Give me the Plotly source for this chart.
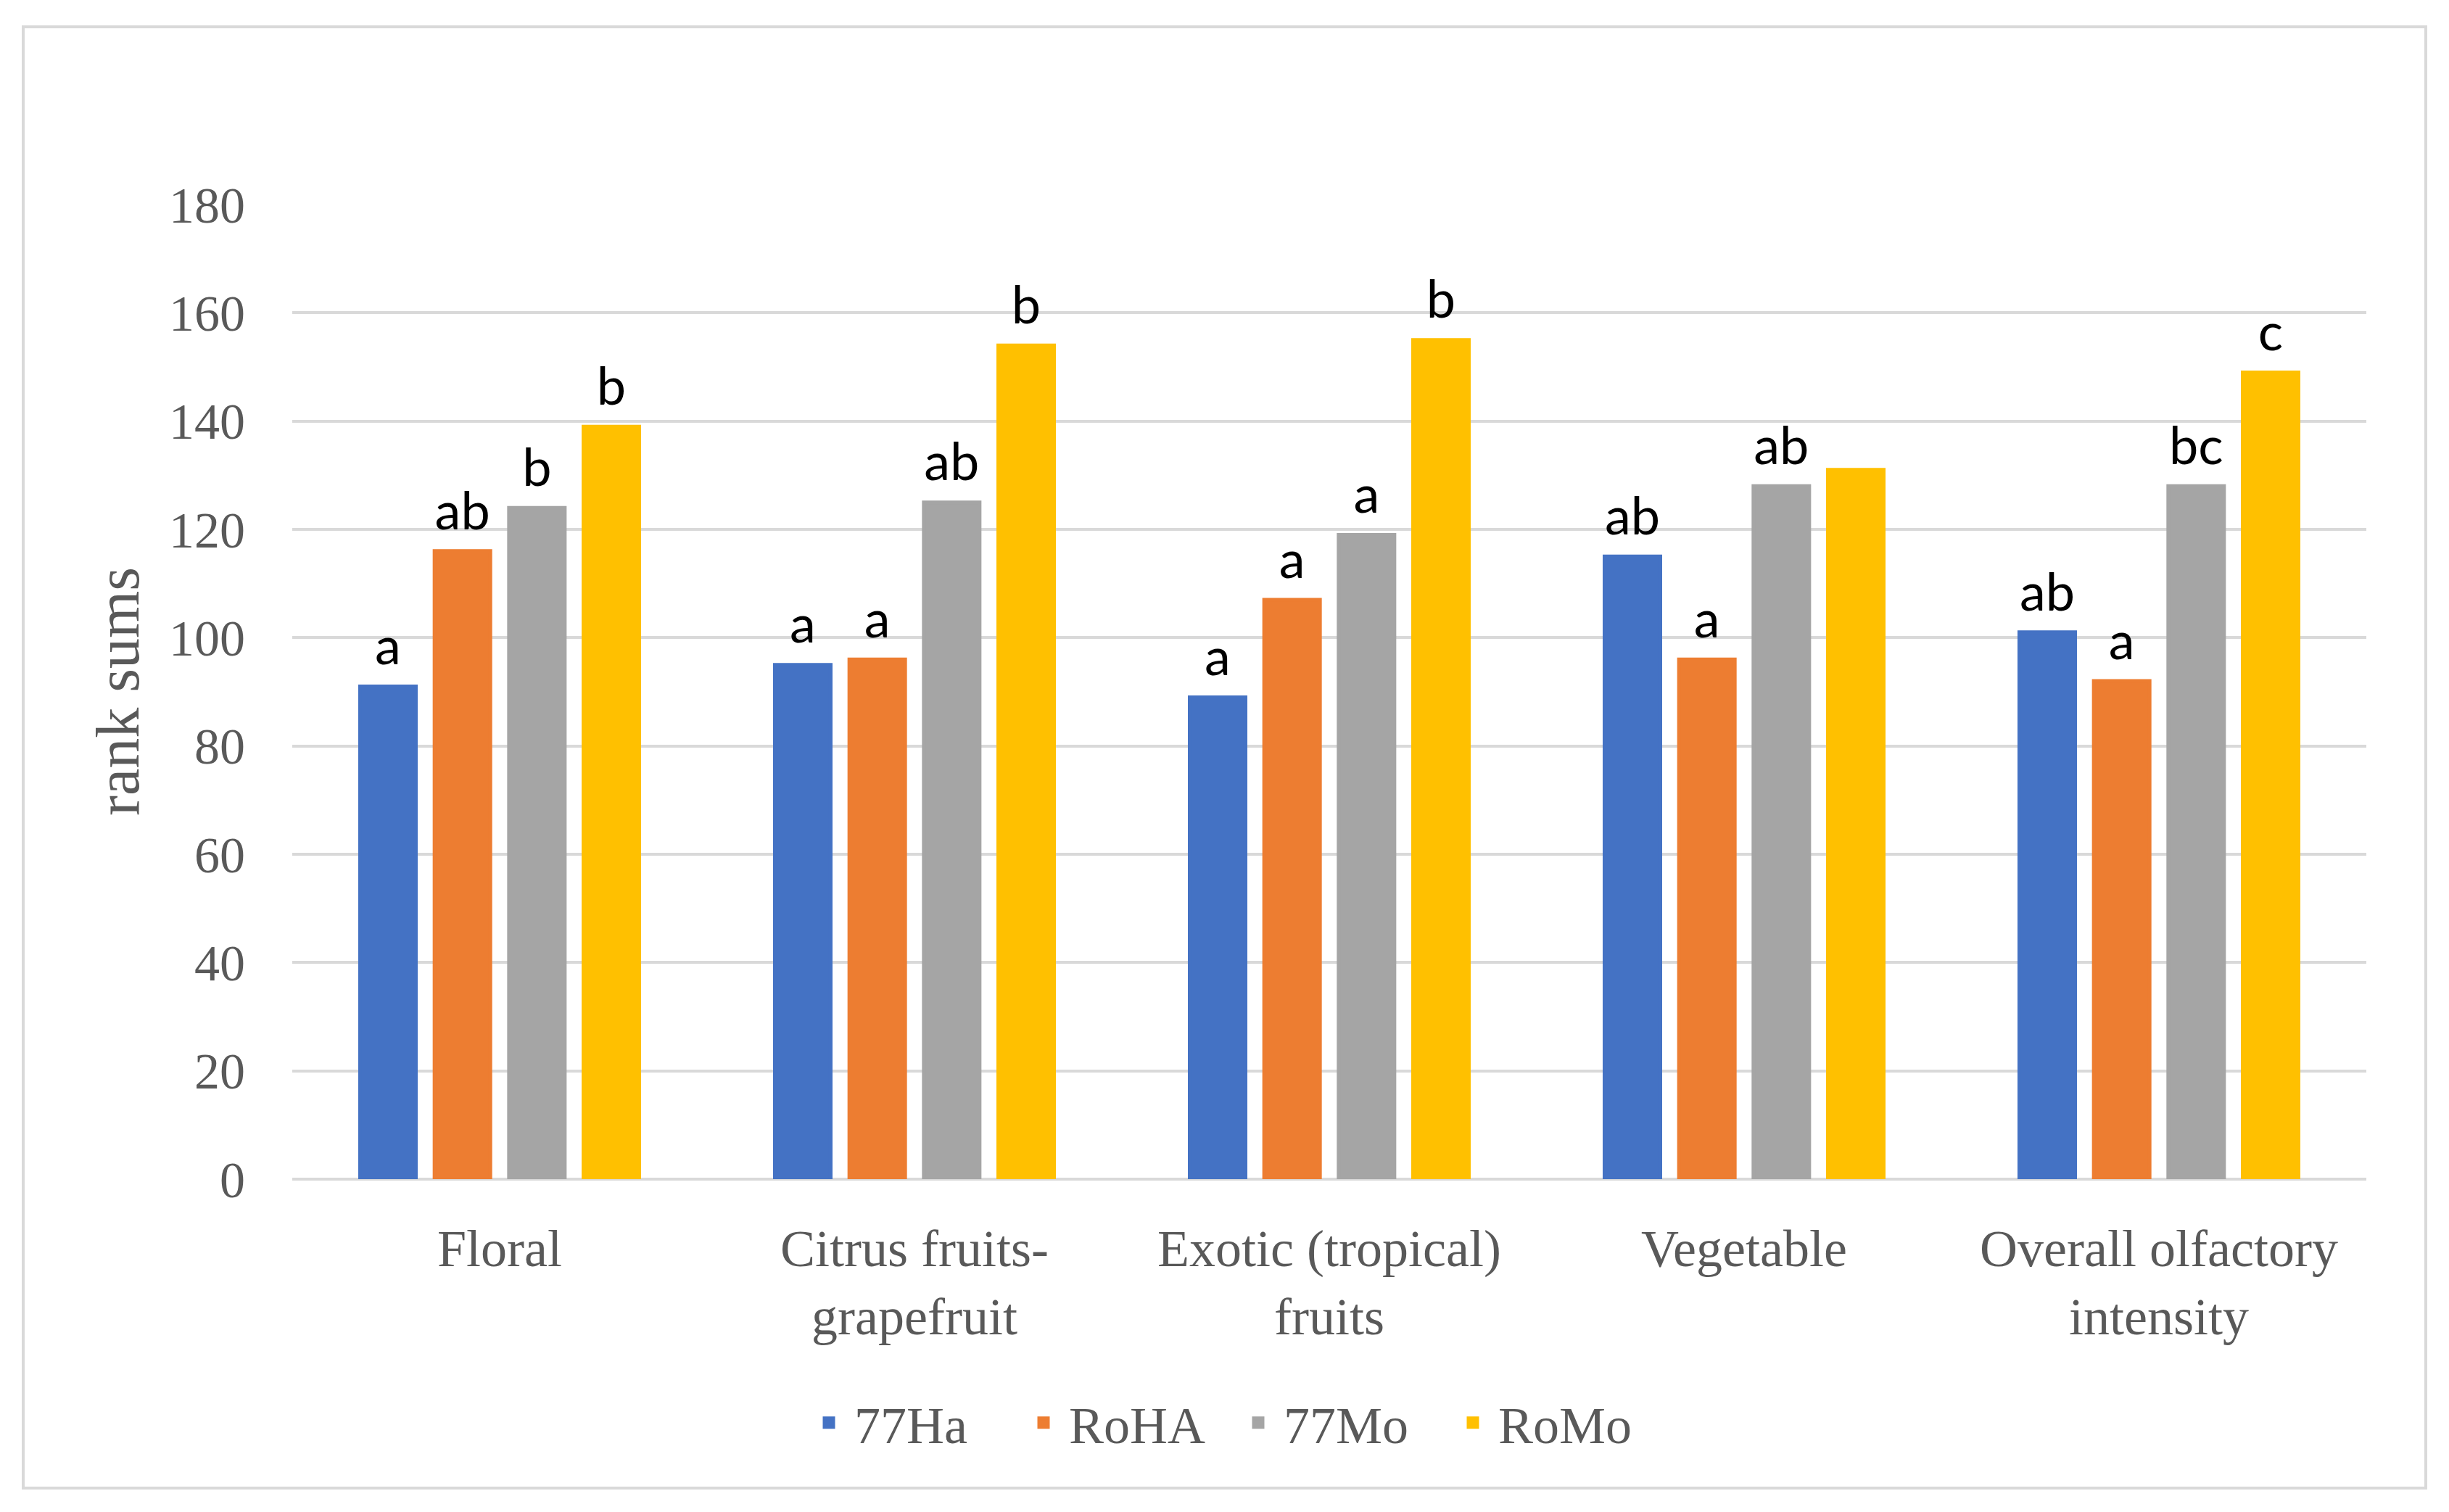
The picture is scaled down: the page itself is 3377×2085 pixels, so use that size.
import plotly.graph_objects as go

categories = ["Floral", "Citrus fruits-<br>grapefruit", "Exotic (tropical)<br>fruits",
              "Vegetable", "Overall olfactory<br>intensity"]
series_names = ["77Ha", "RoHA", "77Mo", "RoMo"]
values_77Ha = [91, 95, 89, 115, 101]
values_RoHA = [116, 96, 107, 96, 92]
values_77Mo = [124, 125, 119, 128, 128]
values_RoMo = [139, 154, 155, 131, 149]
letters_77Ha = ["a", "a", "a", "ab", "ab"]
letters_RoHA = ["ab", "a", "a", "a", "a"]
letters_77Mo = ["b", "ab", "a", "ab", "bc"]
letters_RoMo = ["b", "b", "b", "", "c"]
colors = ["#4472C4", "#ED7D31", "#A5A5A5", "#FFC000"]
y_ticks = [0, 20, 40, 60, 80, 100, 120, 140, 160, 180]
y_title = "rank sums"

all_values = [values_77Ha, values_RoHA, values_77Mo, values_RoMo]
all_letters = [letters_77Ha, letters_RoHA, letters_77Mo, letters_RoMo]

# page is offset by the 8px default body margin
OFF = 8
W, H = 3377 - 2 * OFF, 2085 - 2 * OFF
plot_left, plot_right, plot_top, plot_bottom = 403, 3263, 282, 1626  # page px
ml = plot_left - OFF
mt = plot_top - OFF
mr = W - (plot_right - OFF)
mb = H - (plot_bottom - OFF)
pw = plot_right - plot_left
ph = plot_bottom - plot_top

BARGAP = 0.282

fig = go.Figure()
for name, vals, col in zip(series_names, all_values, colors):
    fig.add_trace(go.Bar(
        name=name, x=categories, y=vals, offsetgroup=name,
        marker=dict(color=col, line=dict(width=5, color=col)),
        hoverinfo="y+name",
    ))
for name, vals, labs in zip(series_names, all_values, all_letters):
    fig.add_trace(go.Scatter(
        x=categories, y=vals, text=labs, mode="markers+text", offsetgroup=name,
        textposition="top center", cliponaxis=False, showlegend=False, hoverinfo="skip",
        marker=dict(size=18, opacity=0, color="white"),
        textfont=dict(family="Lato", size=72, color="#000000"),
    ))


def px_x(page_x):
    return (page_x - plot_left) / pw


def px_y(page_y):
    return (plot_bottom - page_y) / ph


fig.add_shape(type="rect", xref="paper", yref="paper",
              x0=px_x(32), x1=px_x(3345), y0=px_y(2052), y1=px_y(37),
              line=dict(color="#D9D9D9", width=4), layer="below")

fig.add_annotation(text=y_title, xref="paper", yref="paper", x=px_x(162), y=px_y(954),
                   xanchor="center", yanchor="middle", textangle=-90, showarrow=False,
                   font=dict(family="Liberation Serif", size=84, color="#595959"))

fig.update_layout(
    width=W, height=H, autosize=False,
    margin=dict(l=ml, r=mr, t=mt, b=mb),
    paper_bgcolor="white", plot_bgcolor="white",
    barmode="group", bargap=BARGAP, bargroupgap=0.25,
    scattermode="group", scattergap=BARGAP,
    font=dict(family="Liberation Serif", color="#595959"),
    legend=dict(orientation="h", x=px_x(1700), xanchor="center",
                y=px_y(1962), yanchor="middle", itemwidth=60,
                font=dict(family="Liberation Serif", size=72, color="#595959"),
                entrywidth=221, entrywidthmode="pixels", bgcolor="rgba(0,0,0,0)"),
    xaxis=dict(showgrid=False, showline=False, ticks="", tickfont=dict(size=72, color="#595959"),
               ticklabelstandoff=47),
    yaxis=dict(range=[0, 180], tickvals=y_ticks, showgrid=True, gridcolor="#D9D9D9", gridwidth=4,
               zeroline=True, zerolinecolor="#D9D9D9", zerolinewidth=4, showline=False, ticks="",
               tickfont=dict(size=70, color="#595959"), ticklabelstandoff=64),
)

fig.write_html("out.html")
